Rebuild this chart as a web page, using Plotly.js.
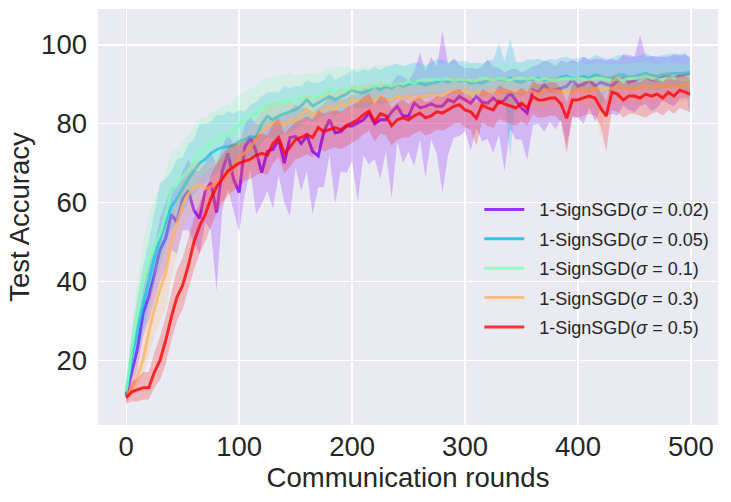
<!DOCTYPE html>
<html><head><meta charset="utf-8">
<script src="https://cdn.plot.ly/plotly-3.0.1.min.js"></script>
<style>html,body{margin:0;padding:0;background:#fff}#chart{width:731px;height:502px}</style>
</head><body><div id="chart"></div>
<script>
// Legend labels (sigma values)
const seriesNames = ["1-SignSGD(<i>σ</i> = 0.02)","1-SignSGD(<i>σ</i> = 0.05)","1-SignSGD(<i>σ</i> = 0.1)","1-SignSGD(<i>σ</i> = 0.3)","1-SignSGD(<i>σ</i> = 0.5)"];

// Mean test accuracy, rounds 0,5,...,495,499
const meanS002 = [11,17,23,32,36,42,48,51,57,55,61,63,58,56,63,65,57.5,68,72.5,66,62.5,74,76.5,73,67.6,73,73.5,76,70,76.5,76.8,75,77,73,71.8,78,81,77.7,78,79.4,79.4,80.2,81,82.7,80,81,81,83,84.4,82,81.9,85.3,84,84.4,85,84.4,84.5,86.1,85.5,86.9,86.1,85.2,86.9,85.5,85.2,86.5,85.2,86,87.8,86,84,82.7,88.6,88,89.9,88.5,88.6,89,89.5,91.1,89.5,90,91.1,89.5,90.5,90,89.5,91,91.6,90.5,91,91.5,92,91.2,91,92,92,91.5,92.3,92.5,92.8];
const meanS005 = [11.5,21,28,34,40,46,51,55,59,61,63.5,66,68,70,71,72.5,73.4,74,74.2,74.5,75.5,76,76.8,76.5,80,81.9,81,82,82.5,83,83.6,84.5,86.1,84.5,85.3,86,86.9,86,86.9,87.5,88.6,88,87.8,88.5,89.5,88.6,89.5,89,90.3,89.5,90,90.5,90.3,89.8,90.3,90.5,91.2,90.5,91.2,90.8,91,90.3,90.5,90.3,91,91.3,91.4,91,91.6,90.8,90.5,91.3,91.2,91.5,91,91.4,91.2,91.8,92,91.4,91.6,92,91.5,92.4,92,91.6,91.6,92.3,92.4,91.8,92,92.4,92.8,92.2,92,92.5,92.6,92.8,92.7,92.8,93];
const meanS01 = [12,23,32,40,45,49,52,57,63,64.5,66.5,68,70.5,72.6,73.5,75,75.5,76.5,76.8,78,79.5,81,82,82.5,84,84.4,84.8,85.3,85.5,86,86.1,86.5,86.9,86.5,86.9,87.5,88.6,88,88.6,88.6,89,88.8,89.5,89.2,89.5,89.8,89.9,89.5,90.3,90,90.7,90.3,91,91.2,91,91.2,91.2,91.4,91,91.2,91.1,91,90.8,91.6,91.3,91.1,91.6,91.2,91.1,91.5,91.6,91.3,91.6,91.1,91.5,91.2,91.1,91.4,91.6,91.3,91.6,91.2,91.1,91.5,91.6,91.2,91.1,91.3,91.1,91.4,91.5,91.6,92,91.6,91.1,91.3,91.6,91.5,91.3,91.1,91.2];
const meanS03 = [10.5,13,16,20,27,33,38,42,50,55,59.5,62,64,64.5,63.5,64,65,66,67,69,71.5,72.6,74,76,78,79.4,80,80.5,79.5,81,80.5,82,83.6,82,82.7,83.5,84.4,83.5,85.3,84.5,86.1,85.5,86.1,86.5,85.5,86.9,86,86,86.9,86.3,86.9,86,87,86.9,87.4,87,87.4,88,88.6,88,88.6,87,88.2,87.8,88,88.5,87.8,88.5,88,88.6,87.8,88.2,88.2,87.5,88.5,88.6,88.4,88.2,88.2,87.8,88.6,88.4,88,89,88.5,89,89,89.5,89,89,88.7,89.2,89.5,89.3,89.5,89.5,89.8,89.5,89.5,90,89.6];
const meanS05 = [10.5,12,12.5,13,13,17,20,25,31,36,39,44,50,54,57,61,64,66,68,69,70,70.5,71,72,72.5,72,75,76.5,72.5,74,76,76.5,77.3,76.5,79,78,78.5,79,78.5,79.5,80.2,81,82.3,83.2,80.5,82.5,82,79.5,81,81.5,81,82,82.7,81.5,82,83,82.7,83.5,84.4,84.8,83.5,83,81.4,84.8,84,83.5,85.7,85,84.4,84,85.2,84,86.9,86,86.1,86.5,86.5,85,81.4,86,86.1,86.5,87,86.5,84,81.9,88,87.5,86,87,87,86.5,87.5,87,87.5,86.5,88,87,88.5,88,87.5];

// Spread of the runs below / above the mean, same rounds
const loOffS002 = [2,4,5,6,6,7,8,8,9,8,8,10,8,9,8,12,20,10,9,8,10,12,8,16,8,10,15,9,10,20,8,12,9,16,8,14,9,18,10,12,9,20,9,13,9,15,8,22,9,12,9,16,8,18,9,12,22,14,9,10,8,12,8,10,9,14,8,18,9,10,8,12,9,8,12,8,10,8,15,9,8,10,7,9,7,8,7,9,7,7,8,7,7,8,7,6,7,7,6,6,6];
const hiOffS002 = [2,5,7,6,8,7,8,9,7,9,7,8,10,12,7,8,12,6,5,9,12,6,5,7,12,8,8,6,12,7,8,9,7,10,12,7,6,9,8,7,8,7,8,6,9,8,9,7,8,10,9,8,14,9,12,10,19,9,11,8,8,9,7,9,11,8,9,7,6,8,9,11,6,7,6,7,6,7,6,5,6,7,5,7,6,6,7,5,6,7,6,11,5,6,6,5,5,6,5,5,4];
const loOffS005 = [1.5,5,6,7,7,7,7,6,6,6,6,6,6,6,6,6,6,6,6,6,5,5,5,5,5,5,5,5,5,5,5,5,5,4,4,4,4,4,4,4,4,4,4,4,4,4,4,4,4,4,3.5,3.5,3.5,3.5,3.5,3.5,3.5,3.5,3.5,3.5,3.5,3.5,3.5,3.5,3.5,3.5,3.5,3.5,20,3.5,3.5,3.5,3.5,3.5,3.5,3.5,3.5,3.5,3.5,3.5,3.5,3.5,3.5,3.5,8,3.5,3.5,3.5,3.5,3.5,3.5,3.5,3.5,3.5,3.5,3.5,3.5,3.5,3.5,3.5,11];
const hiOffS005 = [1.5,6,8,10,10,12,14,11,9,10,8,9,8,10,9,8,9,8,9,8,8,7,8,9,7,6,7,6,7,6,6,5,5,6,5,5,6,5,5,5,5,5,6,5,5,5,5,6,5,5,5,5,5,5,5,6,5,5,5,5,5,5,5,5,5,5,9,5,10,5,5,5,5,5,5,5,5,5,5,5,5,5,5,5,5,5,5,5,5,5,5,5,5,5,5,5,5,5,5,5,4];
const loOffS01 = [2,5,6,7,7,7,7,7,7,7,6,6,6,6,6,6,6,6,6,6,6,5,5,5,5,5,5,5,5,5,5,5,5,5,5,5,5,5,5,5,4,4,4,4,4,4,4,4,4,4,3,3,3,3,3,3,3,3,3,3,3,3,3,3,3,3,3,3,3,3,3,3,3,3,3,3,3,3,3,3,3,3,3,3,3,3,3,3,3,3,3,3,3,3,3,3,3,3,3,3,3];
const hiOffS01 = [2,6,8,10,12,12,12,11,10,9,9,9,9,9,8,8,8,8,8,8,8,7,7,7,7,7,7,7,7,7,6,6,6,6,6,6,6,6,6,6,5,5,5,5,5,5,5,5,5,5,4,4,4,4,4,4,4,4,4,4,4,4,4,4,4,4,4,4,4,4,4,4,4,4,4,4,4,4,4,4,4,4,4,4,4,4,4,4,4,4,4,4,4,4,4,4,4,4,4,4,4];
const loOffS03 = [1.5,2,3,4,6,7,8,9,9,8,7,6,6,6,6,6,7,6,6,6,6,6,6,6,6,5,5,5,5,5,5,5,5,5,5,5,5,5,5,5,4,4,4,4,4,4,4,4,4,4,4,4,4,4,4,4,4,4,4,4,4,4,4,4,4,4,4,4,4,4,4,4,4,4,4,4,4,4,4,4,4,4,4,4,12,4,4,4,4,4,4,4,4,4,4,4,4,4,4,4,4];
const hiOffS03 = [1.5,3,5,7,9,9,9,8,7,6,6,6,6,6,6,6,6,6,6,6,5,5,5,5,5,5,5,5,5,5,4,4,4,4,4,4,4,4,4,4,4,4,4,4,4,4,4,4,4,4,3.5,3.5,3.5,3.5,3.5,3.5,3.5,3.5,3.5,3.5,3.5,3.5,3.5,3.5,3.5,3.5,3.5,3.5,3.5,3.5,3.5,3.5,3.5,3.5,3.5,3.5,3.5,3.5,3.5,3.5,3.5,3.5,3.5,3.5,3.5,3.5,3.5,3.5,3.5,3.5,3.5,3.5,3.5,3.5,3.5,3.5,3.5,3.5,3.5,3.5,3.5];
const loOffS05 = [1.5,2.5,3,3,3,4,5,6,6,6,6,6,7,7,7,7,7,6,6,6,6,5,5,5,5,5,5,5,5,5,5,5,5,5,5,5,5,5,5,5,5,5,5,5,5,5,5,5,5,5,4.5,4.5,4.5,4.5,4.5,4.5,4.5,4.5,4.5,4.5,4.5,4.5,7,4.5,4.5,4.5,4.5,4.5,4.5,4.5,4.5,4.5,4.5,4.5,4.5,4.5,4.5,4.5,9,4.5,4.5,4.5,4.5,4.5,4.5,9,4.5,4.5,4.5,4.5,4.5,4.5,6,4.5,4.5,4.5,4.5,4.5,4.5,4.5,4.5];
const hiOffS05 = [1.5,2.5,3,4,4,5,6,6,6,7,7,7,6,6,6,6,6,6,6,6,5,5,5,5,5,5,5,5,5,5,4.5,4.5,4.5,4.5,4.5,4.5,4.5,4.5,4.5,4.5,4.5,4.5,4.5,4.5,4.5,4.5,4.5,4.5,4.5,4.5,4,4,4,4,4,4,4,4,4,4,4,4,4,4,4,4,4,4,4,4,4,4,4,4,4,4,4,4,4,4,4,4,4,4,4,4,4,4,4,4,4,4,4,4,4,4,4,4,4,4,4];

const yTicks = [20,40,60,80,100];
const xTicks = [0,100,200,300,400,500];

const xm = []; for (let i = 0; i < 100; i++) xm.push(i*5); xm.push(499);

const means = [meanS002, meanS005, meanS01, meanS03, meanS05];
const loOffs = [loOffS002, loOffS005, loOffS01, loOffS03, loOffS05];
const hiOffs = [hiOffS002, hiOffS005, hiOffS01, hiOffS03, hiOffS05];
const rgb = ["128,0,255","0,181,235","128,255,180","255,180,98","255,0,0"];

const traces = [];
for (let k = 0; k < 5; k++) {
  const lo = means[k].map((v, i) => v - loOffs[k][i]);
  const hi = means[k].map((v, i) => v + hiOffs[k][i]);
  traces.push({
    x: xm.concat(xm.slice().reverse()),
    y: hi.concat(lo.slice().reverse()),
    type: 'scatter', mode: 'lines', fill: 'toself',
    fillcolor: 'rgba(' + rgb[k] + ',0.22)',
    line: {width: 0, color: 'rgba(0,0,0,0)'},
    showlegend: false, hoverinfo: 'skip', legendgroup: 'g' + k
  });
  traces.push({
    x: xm, y: means[k], type: 'scatter', mode: 'lines',
    name: '\u00a0\u00a0' + seriesNames[k], legendgroup: 'g' + k,
    line: {color: 'rgba(' + rgb[k] + ',0.78)', width: 3}
  });
}

const fontFam = '"Liberation Sans", Arial, sans-serif';
const layout = {
  width: 731, height: 502,
  margin: {l: 98, r: 13, t: 9, b: 77},
  paper_bgcolor: '#ffffff', plot_bgcolor: '#EAEAF2',
  font: {family: fontFam, color: '#262626'},
  xaxis: {
    range: [-24.95, 523.95], tickvals: xTicks, ticktext: xTicks.map(String),
    showgrid: true, gridcolor: '#ffffff', gridwidth: 1.3, zeroline: false,
    showline: false, ticks: '', ticklabelstandoff: 2,
    tickfont: {size: 27.5, family: fontFam, color: '#262626'},
    title: {text: 'Communication rounds', font: {size: 27.5, family: fontFam, color: '#262626'}, standoff: 0}
  },
  yaxis: {
    range: [3.56, 109.1], tickvals: yTicks, ticktext: yTicks.map(String),
    showgrid: true, gridcolor: '#ffffff', gridwidth: 1.3, zeroline: false,
    showline: false, ticks: '', ticklabelstandoff: 10,
    tickfont: {size: 27.5, family: fontFam, color: '#262626'},
    title: {text: 'Test Accuracy', font: {size: 27.5, family: fontFam, color: '#262626'}, standoff: 3}
  },
  legend: {
    x: 0.615, y: 0.562, xanchor: 'left', yanchor: 'top',
    bgcolor: 'rgba(0,0,0,0)', borderwidth: 0,
    font: {size: 18, family: fontFam, color: '#262626'},
    traceorder: 'grouped', tracegroupgap: 3, itemwidth: 40
  },
  showlegend: true
};

Plotly.newPlot('chart', traces, layout, {displayModeBar: false, staticPlot: true});
</script>
</body></html>
